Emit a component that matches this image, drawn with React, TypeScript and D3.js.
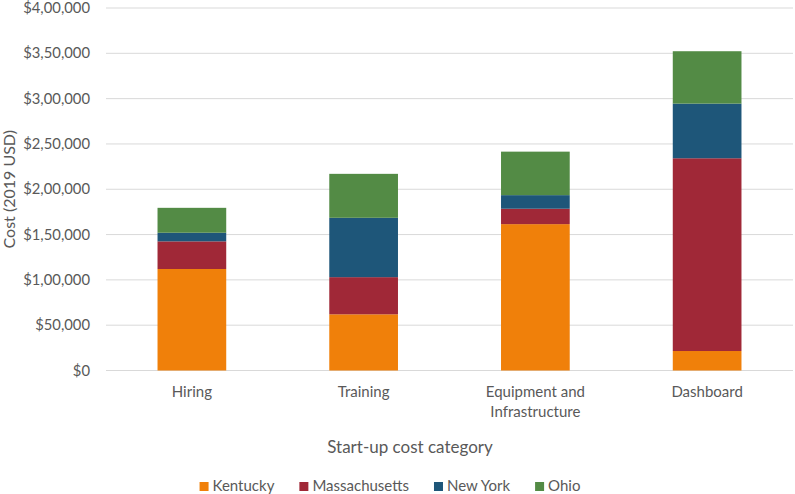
import React, { useRef, useEffect } from "react";
import * as d3 from "d3";

const categories = ["Hiring", "Training", "Equipment and\nInfrastructure", "Dashboard"];
const states = ["Kentucky", "Massachusetts", "New York", "Ohio"];
const colors = ["#F0800A", "#A02837", "#1E5679", "#538B45"];
const kentucky = [112000, 62000, 161500, 21500];
const massachusetts = [30500, 41000, 17000, 212700];
const newYork = [9500, 65500, 15000, 60300];
const ohio = [27500, 48500, 48000, 57800];
const yTicks = [0, 50000, 100000, 150000, 200000, 250000, 300000, 350000, 400000];

const W = 795;
const H = 494;
const FONT = "Lato, 'Open Sans', sans-serif";

// Indian style grouping: $4,00,000
const fmt = (v: number) => {
  const s = String(v);
  if (s.length <= 3) return "$" + s;
  const last3 = s.slice(-3);
  let rest = s.slice(0, -3);
  const parts: string[] = [];
  while (rest.length > 2) {
    parts.unshift(rest.slice(-2));
    rest = rest.slice(0, -2);
  }
  if (rest) parts.unshift(rest);
  return "$" + parts.join(",") + "," + last3;
};

const App: React.FC = () => {
  const svgRef = useRef<SVGSVGElement | null>(null);

  useEffect(() => {
    if (!svgRef.current) return;
    const svg = d3.select(svgRef.current);
    svg.selectAll("*").remove();

    const left = 106, right = 793, top = 8, bottom = 370.5;
    const series = [kentucky, massachusetts, newYork, ohio];
    const rows = categories.map((c, i) => {
      const r: any = { cat: c };
      states.forEach((s, j) => (r[s] = series[j][i]));
      return r;
    });
    const stacked = d3.stack<any>().keys(states)(rows);

    const x = d3.scaleBand().domain(categories).range([left, right]).paddingInner(0.6).paddingOuter(0.3);
    const y = d3.scaleLinear().domain([0, 400000]).range([bottom, top]);

    // gridlines
    svg.append("g")
      .selectAll("line")
      .data(yTicks)
      .enter()
      .append("line")
      .attr("x1", left)
      .attr("x2", right)
      .attr("y1", (d) => y(d))
      .attr("y2", (d) => y(d))
      .attr("stroke", "#d9d9d9")
      .attr("stroke-width", 1);

    svg.append("g")
      .selectAll("text")
      .data(yTicks)
      .enter()
      .append("text")
      .attr("x", 90)
      .attr("y", (d) => y(d) + 5)
      .attr("text-anchor", "end")
      .attr("font-size", 14.8)
      .attr("fill", "#595959")
      .text((d) => fmt(d));

    // bars
    svg.append("g")
      .selectAll("g")
      .data(stacked)
      .enter()
      .append("g")
      .attr("fill", (_d, i) => colors[i])
      .selectAll("rect")
      .data((d) => d)
      .enter()
      .append("rect")
      .attr("x", (d) => x(d.data.cat)!)
      .attr("y", (d) => y(d[1]))
      .attr("width", x.bandwidth())
      .attr("height", (d) => y(d[0]) - y(d[1]));

    // category labels
    const cl = svg.append("g")
      .selectAll("text")
      .data(categories)
      .enter()
      .append("text")
      .attr("text-anchor", "middle")
      .attr("font-size", 15)
      .attr("fill", "#595959");
    cl.each(function (d) {
      const t = d3.select(this);
      d.split("\n").forEach((line, k) => {
        t.append("tspan")
          .attr("x", x(d)! + x.bandwidth() / 2)
          .attr("y", 397 + k * 20)
          .text(line);
      });
    });

    // axis titles
    svg.append("text")
      .attr("x", 410)
      .attr("y", 452.5)
      .attr("text-anchor", "middle")
      .attr("font-size", 17)
      .attr("fill", "#595959")
      .text("Start-up cost category");

    svg.append("text")
      .attr("transform", `translate(15, ${(top + bottom) / 2}) rotate(-90)`)
      .attr("text-anchor", "middle")
      .attr("font-size", 16)
      .attr("fill", "#595959")
      .text("Cost (2019 USD)");

    // legend
    const lg = svg.append("g");
    let cx = 0;
    states.forEach((s, i) => {
      const item = lg.append("g").attr("transform", `translate(${cx},0)`);
      item.append("rect").attr("x", 0).attr("y", 482).attr("width", 9).attr("height", 9).attr("fill", colors[i]);
      const t = item.append("text")
        .attr("x", 13)
        .attr("y", 490.5)
        .attr("font-size", 15)
        .attr("fill", "#595959")
        .text(s);
      const w = (t.node() as SVGTextElement).getComputedTextLength();
      cx += 13 + w + 25;
    });
    const total = cx - 25;
    lg.attr("transform", `translate(${390 - total / 2},0)`);
  }, []);

  return (
    <svg
      ref={svgRef}
      width={W}
      height={H}
      style={{ position: "absolute", left: 0, top: 0, fontFamily: FONT, background: "#fff" }}
    ></svg>
  );
};

export default App;
